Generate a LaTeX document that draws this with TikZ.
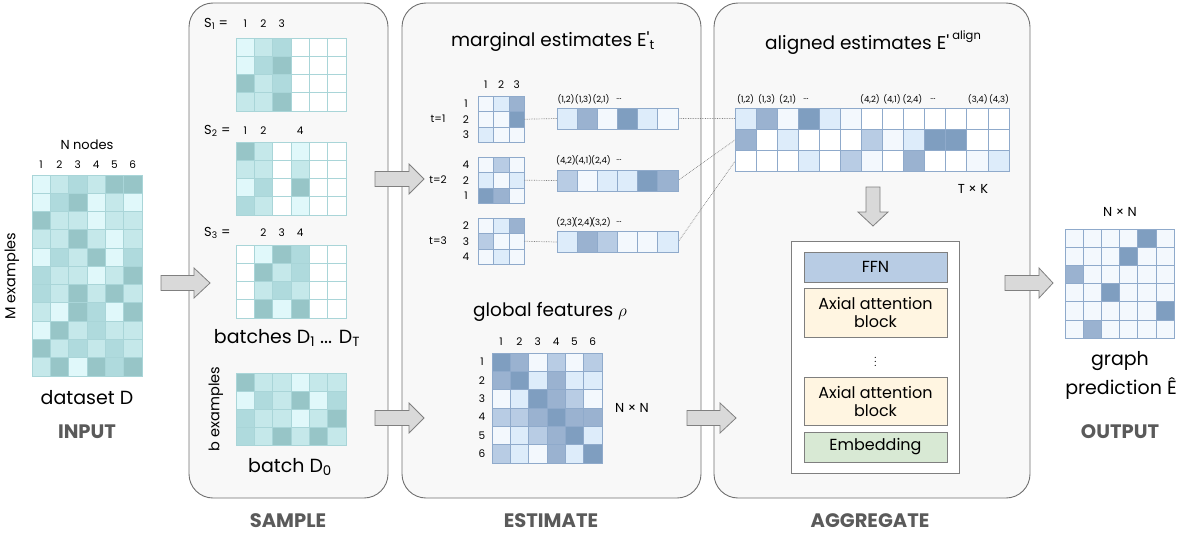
\documentclass[tikz,border=0pt]{standalone}
\usepackage{fontspec}
\setmainfont{Poppins}
\newfontfamily\straightq{Poppins}[Ligatures=TeXOff]
\definecolor{panelfill}{HTML}{F8F8F8}
\definecolor{panelline}{HTML}{707070}
\definecolor{arrowfill}{HTML}{D9D9D9}
\definecolor{arrowline}{HTML}{808080}
\definecolor{secgray}{HTML}{5A5A5A}
\definecolor{tc0}{HTML}{FFFFFF}
\definecolor{tc1}{HTML}{E0F8FA}
\definecolor{tc2}{HTML}{C5E8EA}
\definecolor{tc3}{HTML}{AFDADD}
\definecolor{tc4}{HTML}{97C5C7}
\definecolor{tline}{HTML}{A9D5D8}
\definecolor{bcw}{HTML}{FFFFFF}
\definecolor{bc0}{HTML}{F3F8FD}
\definecolor{bc1}{HTML}{DDECFA}
\definecolor{bc2}{HTML}{B8CCE4}
\definecolor{bc3}{HTML}{9AB2D0}
\definecolor{bc4}{HTML}{7F9EC0}
\definecolor{bline}{HTML}{8FAACB}
\definecolor{ffnfill}{HTML}{B8CCE4}
\definecolor{axfill}{HTML}{FFF5E1}
\definecolor{embfill}{HTML}{D8E9D4}
\definecolor{boxline}{HTML}{7F7F7F}
\newcommand{\drawmat}[7]{%
  \foreach \rr [count=\ii from 0] in {#7} {
    \foreach \vv [count=\jj from 0] in \rr {
      \filldraw[fill=#5\vv, draw=#6, line width=0.9pt] ({#1+\jj*#3},{#2+\ii*#4}) rectangle ++(#3,#4);
    }
  }
}
\newcommand{\rarrow}[4]{%
  \draw[barrow] ({#1},{#4-7.5}) -- ({#2},{#4-7.5}) -- ({#2},{#4-15}) -- ({#3},{#4}) -- ({#2},{#4+15}) -- ({#2},{#4+7.5}) -- ({#1},{#4+7.5}) -- cycle;}
\newcommand{\pr}{{\straightq'}}
\tikzset{
  panel/.style={draw=panelline, fill=panelfill, rounded corners=24pt, line width=0.9pt},
  barrow/.style={draw=arrowline, fill=arrowfill, line width=0.8pt, line join=miter},
  lbl/.style={inner sep=0pt, font=\fontsize{19}{22}\selectfont},
  ttl/.style={inner sep=0pt, font=\fontsize{18.5}{21}\selectfont},
  sec/.style={inner sep=0pt, text=secgray, font=\bfseries\fontsize{19.5}{22}\selectfont},
  num/.style={inner sep=0pt, font=\fontsize{10.5}{12}\selectfont},
  mid/.style={inner sep=0pt, font=\fontsize{13}{15}\selectfont},
  rot/.style={inner sep=0pt, rotate=90, font=\fontsize{14.5}{16}\selectfont},
  pair/.style={inner sep=0pt, font=\fontsize{8.5}{10}\selectfont},
  dotline/.style={draw=gray, densely dotted, line width=0.7pt},
  layer/.style={draw=boxline, line width=0.8pt, minimum width=143pt, inner sep=0pt, align=center, font=\fontsize{16}{19}\selectfont},
}
\begin{document}
\begin{tikzpicture}[x=1pt,y=-1pt]
\useasboundingbox (0,0) rectangle (1183,535);
% panels
\draw[panel] (189,3) rectangle (388,498);
\draw[panel] (402,3) rectangle (701,498);
\draw[panel] (714,3) rectangle (1030,498);
% section labels
\node[sec] (secin) at (87,432) {INPUT};
\node[sec] (secsa) at (288,521) {SAMPLE};
\node[sec] (seces) at (551,521) {ESTIMATE};
\node[sec] (secag) at (870,521) {AGGREGATE};
\node[sec] (secout) at (1120,432) {OUTPUT};
% ---------- input
\node[mid] (nnodes) at (87,145) {N nodes};
\foreach \k in {1,...,6} \node[num] (inc\k) at ({32+9.17+18.33*(\k-1)},165) {\k};
\node[rot] (mex) at (12,276) {M examples};
\drawmat{32}{175}{18.33}{18.27}{tc}{tline}{{1,2,3,2,4,4},{1,3,4,1,2,1},{4,2,2,1,2,2},{2,2,4,2,1,2},{1,3,2,4,1,3},{3,2,2,1,2,4},{3,2,4,2,4,2},{2,1,4,3,1,4},{1,4,2,3,2,2},{4,2,3,2,3,2},{2,4,1,4,3,4}}
\node[lbl] (dataset) at (87,398) {dataset D};
% ---------- sample
\node[mid, anchor=west] (s1) at (204,24) {S\textsubscript{1} =};
\node[num] at (245.2,24) {1};
\node[num] at (263.5,24) {2};
\node[num] at (281.8,24) {3};
\drawmat{236}{38}{18.33}{18.3}{tc}{tline}{{1,2,3,0,0,0},{1,3,4,0,0,0},{4,2,3,0,0,0},{2,2,4,0,0,0}}
\node[mid, anchor=west] (s2) at (204,131) {S\textsubscript{2} =};
\node[num] at (245.2,131) {1};
\node[num] at (263.5,131) {2};
\node[num] at (300.2,131) {4};
\drawmat{236}{142}{18.33}{18.3}{tc}{tline}{{4,2,0,1,0,0},{2,2,0,2,0,0},{1,3,0,4,0,0},{3,2,0,1,0,0}}
\node[mid, anchor=west] (s3) at (204,233) {S\textsubscript{3} =};
\node[num] at (263.5,233) {2};
\node[num] at (281.8,233) {3};
\node[num] at (300.2,233) {4};
\drawmat{236}{245}{18.33}{18.3}{tc}{tline}{{0,1,4,3,0,0},{0,4,2,3,0,0},{0,2,3,2,0,0},{0,4,1,4,0,0}}
\node[lbl] (batches) at (287,338) {batches D\textsubscript{1} ... D\textsubscript{T}};
\node[rot] (bex) at (216,409) {b examples};
\drawmat{236}{373}{18.33}{18.1}{tc}{tline}{{4,2,2,1,2,2},{1,3,2,4,1,3},{3,2,2,1,2,4},{3,2,4,2,4,2}}
\node[lbl] (batch0) at (290,467) {batch D\textsubscript{0}};
% ---------- estimate
\node[ttl] (marg) at (553,42) {marginal estimates E\pr\textsubscript{t}};
\foreach \k in {1,2,3} \node[num] at ({478+7.75+15.5*(\k-1)},85) {\k};
\node[num] (t1) at (438,119) {t=1};
\node[num] (t2) at (438,180) {t=2};
\node[num] (t3) at (438,241) {t=3};
\foreach \lab [count=\r from 0] in {1,2,3} \node[num] at (466,{96+7.75+15.5*\r}) {\lab};
\foreach \lab [count=\r from 0] in {4,2,1} \node[num] at (466,{157+7.75+15.5*\r}) {\lab};
\foreach \lab [count=\r from 0] in {2,3,4} \node[num] at (466,{218+7.75+15.5*\r}) {\lab};
\drawmat{478}{96}{15.5}{15.5}{bc}{bline}{{0,1,3},{0,0,4},{1,0,0}}
\drawmat{478}{157}{15.5}{15.5}{bc}{bline}{{0,2,0},{1,0,1},{4,3,0}}
\drawmat{478}{218}{15.5}{15.5}{bc}{bline}{{0,1,3},{2,0,0},{0,1,0}}
% pair labels
\foreach \y/\a/\b/\c in {99/{(1,2)}/{(1,3)}/{(2,1)}, 160/{(4,2)}/{(4,1)}/{(2,4)}, 222/{(2,3)}/{(2,4)}/{(3,2)}} {
  \node[pair] at (566,\y) {\a};
  \node[pair] at (583.5,\y) {\b};
  \node[pair] at (601,\y) {\c};
  \node[pair] at (619,\y) {...};
}
\coordinate (m1r) at (524,119.25);
\coordinate (m2r) at (524,180.25);
\coordinate (m3r) at (524,241.25);
\coordinate (v1l) at (557,118.5);
\coordinate (v2l) at (557,180.5);
\coordinate (v3l) at (557,242);
\coordinate (v1r) at (678,118.5);
\coordinate (v2r) at (678,180.5);
\coordinate (v3r) at (678,242);
\coordinate (a1l) at (735,118.6);
\coordinate (a2l) at (735,140);
\coordinate (a3l) at (735,161.3);
\draw[dotline] (m1r) -- (v1l);
\draw[dotline] (m2r) -- (v2l);
\draw[dotline] (m3r) -- (v3l);
\draw[dotline] (v1r) -- (a1l);
\draw[dotline] (v2r) -- (a2l);
\draw[dotline] (v3r) -- (a3l);
\drawmat{557}{108}{20.17}{21}{bc}{bline}{{1,3,0,4,1,0}}
\drawmat{557}{170}{20.17}{21}{bc}{bline}{{2,0,1,1,4,3}}
\drawmat{557}{231.5}{20.17}{21}{bc}{bline}{{1,3,2,0,0,1}}
% global features
\node[ttl] (glob) at (550,312) {global features $\rho$};
\foreach \k in {1,...,6} \node[num] at ({492+9.17+18.33*(\k-1)},342) {\k};
\foreach \k in {1,...,6} \node[num] at (482,{353+9.17+18.33*(\k-1)}) {\k};
\drawmat{492}{353}{18.33}{18.33}{bc}{bline}{{4,3,0,2,0,2},{3,4,1,3,1,1},{0,1,4,3,2,0},{2,2,3,4,3,3},{0,1,2,3,4,1},{2,1,0,3,1,4}}
\node[mid] (nxn1) at (632,408) {N × N};
% ---------- aggregate
\node[ttl] (align) at (873,43) {aligned estimates E\pr\,\raisebox{1.0ex}{\fontsize{11.5}{12}\selectfont align}};
\foreach \x/\t in {745.5/{(1,2)},766.6/{(1,3)},787.7/{(2,1)},806/{...},870/{(4,2)},892/{(4,1)},912.5/{(2,4)},933/{...},977.8/{(3,4)},999/{(4,3)}}
  \node[pair] at (\x,99) {\t};
\drawmat{735}{108}{21.08}{21.3}{bc}{bline}{{1,3,0,4,1,0,w,w,w,w,w,w,w},{3,w,1,w,w,w,2,0,1,4,4,w,w},{w,w,w,1,w,2,0,w,3,w,w,0,1}}
\node[mid] (txk) at (973,189) {T × K};
\draw[barrow] (866,187) -- (880,187) -- (880,212) -- (888,212) -- (873,226) -- (858,212) -- (866,212) -- cycle;
\draw[draw=boxline, fill=white, line width=0.8pt] (791,241) rectangle (959,473);
\node[layer, fill=ffnfill, minimum height=30pt] (ffn) at (875.5,267) {FFN};
\node[layer, fill=axfill, minimum height=49pt] (ax1) at (875.5,312.5) {Axial attention\\[-1pt]block};
\node[inner sep=0pt] (dots) at (875.5,359) {$\vdots$};
\node[layer, fill=axfill, minimum height=48pt] (ax2) at (875.5,401) {Axial attention\\[-1pt]block};
\node[layer, fill=embfill, minimum height=30pt] (emb) at (875.5,447) {Embedding};
% ---------- output
\node[mid] (nxn2) at (1120,212) {N × N};
\drawmat{1065}{229}{18.2}{18.2}{bc}{bline}{{0,0,0,0,4,0},{0,0,0,4,0,0},{3,0,0,0,0,0},{0,0,4,0,0,0},{0,0,0,0,0,4},{0,3,0,0,0,0}}
\node[lbl] (graph) at (1120,361) {graph};
\node[lbl] (pred) at (1121,388) {prediction Ê};
% ---------- arrows
\rarrow{161}{194}{210}{283}
\rarrow{375}{409}{424}{179}
\rarrow{375}{409}{424}{418}
\rarrow{687}{720}{736}{418}
\rarrow{1005}{1039}{1053}{283}
\end{tikzpicture}
\end{document}
